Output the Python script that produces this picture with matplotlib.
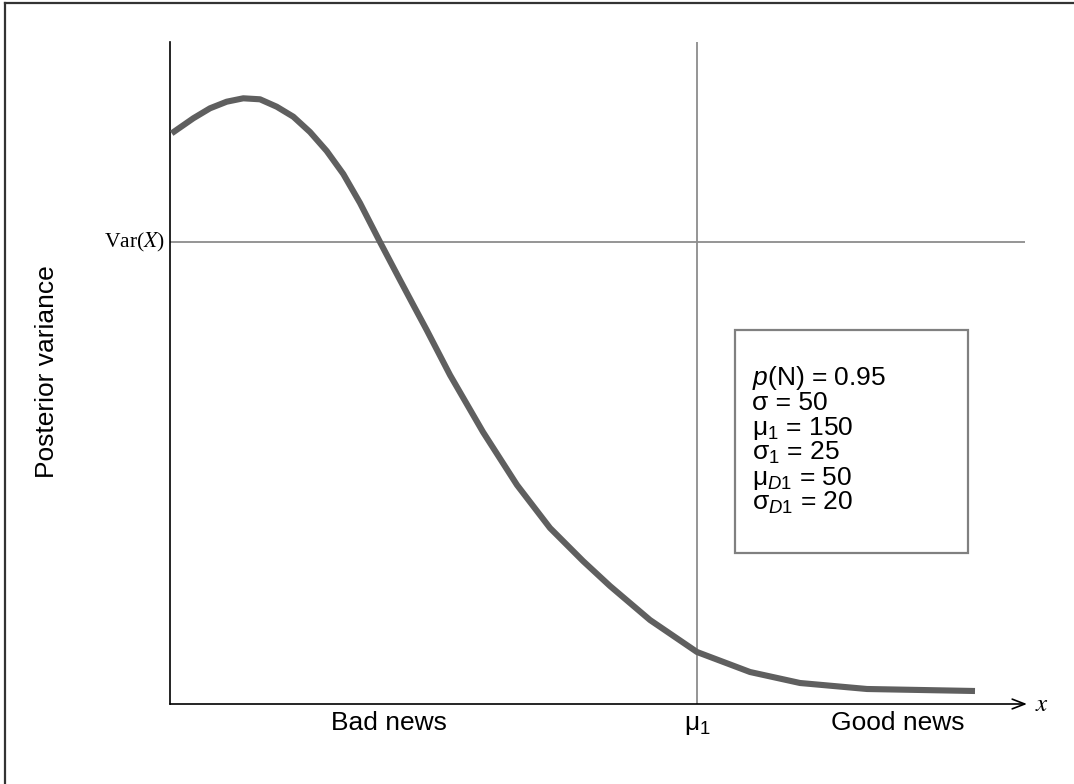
import matplotlib
matplotlib.use("Agg")
import matplotlib.pyplot as plt
from matplotlib.lines import Line2D
from matplotlib.patches import Rectangle

plt.rcParams['font.family'] = ['Liberation Sans', 'DejaVu Sans']
plt.rcParams['mathtext.fontset'] = 'custom'
plt.rcParams['mathtext.rm'] = 'Liberation Sans'
plt.rcParams['mathtext.it'] = 'Liberation Sans:italic'
plt.rcParams['mathtext.bf'] = 'Liberation Sans:bold'

# Curve (arbitrary units: x along axis, y = posterior variance)
curve_x = [1.7, 23.3, 40, 56.7, 73.3, 90, 106.7, 123.3, 140, 156.7, 173.3, 190,
           210, 230, 243.3, 256.7, 280, 313, 347, 380, 413, 440, 480, 527,
           580, 630, 697, 805]
curve_y = [570.7, 585.7, 595.7, 602.3, 605.7, 604.7, 597.3, 587.3, 572, 553,
           530, 501, 462, 424, 399, 374, 329, 272, 219, 176, 143, 118,
           84, 52, 32, 21, 15, 13]

var_x_level = 462      # Var(X)
mu1_pos = 527          # mu_1
x_max = 855
y_max = 662

x_labels = ["Bad news", "μ$_1$", "Good news"]
x_label_pos = [219, 527, 728]

box_lines = ["$p$(N) = 0.95", "σ = 50", "μ$_1$ = 150", "σ$_1$ = 25",
             "μ$_{D1}$ = 50", "σ$_{D1}$ = 20"]

W, H = 1074, 784
fig = plt.figure(figsize=(W / 100, H / 100), dpi=100)
ax = fig.add_axes([170 / W, (H - 704) / H, 855 / W, 662 / H])
ax.set_xlim(0, x_max)
ax.set_ylim(0, y_max)
for s in ['top', 'right', 'bottom']:
    ax.spines[s].set_visible(False)
ax.spines['left'].set_linewidth(1.2)
ax.set_xticks([])
ax.set_yticks([])

# reference lines
ax.axhline(var_x_level, color='#8c8c8c', lw=1.3, zorder=1)
ax.axvline(mu1_pos, color='#8c8c8c', lw=1.3, zorder=1)

# curve
ax.plot(curve_x, curve_y, color='#5f5f5f', lw=4.4, solid_capstyle='butt',
        solid_joinstyle='round', zorder=3)

# x axis with arrow
ax.annotate('', xy=(x_max + 2, 0), xytext=(0, 0), xycoords='data',
            arrowprops=dict(arrowstyle='->,head_length=0.9,head_width=0.35',
                            color='black', lw=1.2, shrinkA=0, shrinkB=0),
            annotation_clip=False)

ax.text(x_max + 10, 0, '$x$', fontsize=18, math_fontfamily='stix',
        ha='left', va='center')

fs = 19
for lab, pos in zip(x_labels, x_label_pos):
    ax.text(pos, -26, lab, fontsize=fs, ha='center', va='baseline')

ax.text(-5, var_x_level, 'Var($X$)', fontsize=15.5, family='Liberation Serif',
        math_fontfamily='stix', ha='right', va='center')

fig.text(47 / W, 1 - 372 / H, 'Posterior variance', fontsize=fs,
         rotation=90, ha='center', va='center')

# parameter box
ax.add_patch(Rectangle((565, 151), 233, 223, fill=False, edgecolor='#808080',
                       lw=1.6, zorder=4))
for i, line in enumerate(box_lines):
    ax.text(582, 319 - i * 25, line, fontsize=fs, ha='left', va='baseline', zorder=5)

# outer frame (top and left edges)
fig.add_artist(Line2D([5 / W, 5 / W], [1 - 3 / H, 0], color='#333333', lw=1.6))
fig.add_artist(Line2D([5 / W, 1], [1 - 3 / H, 1 - 3 / H], color='#333333', lw=1.6))

fig.savefig('out.png', dpi=100)
